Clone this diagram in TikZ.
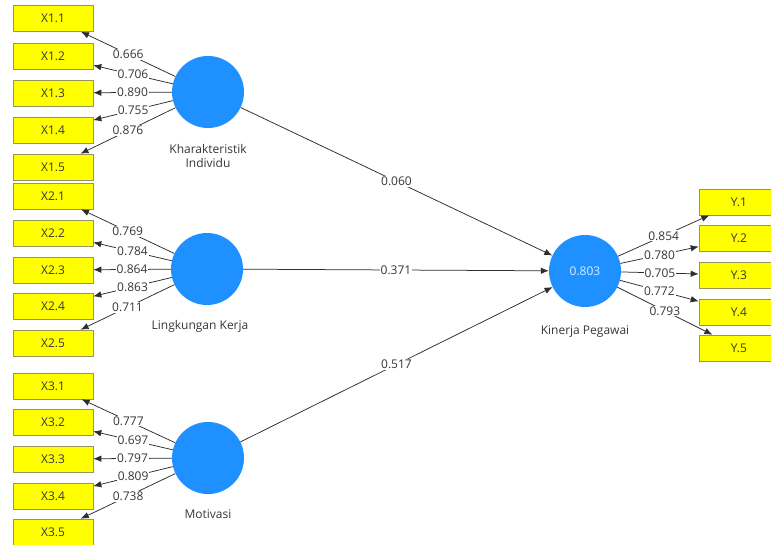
\documentclass[tikz,border=0pt]{standalone}
\usepackage{fontspec}
\setmainfont{Open Sans}
\usetikzlibrary{arrows.meta}

\definecolor{latent}{RGB}{30,144,255}
\definecolor{indicator}{RGB}{255,255,0}
\definecolor{indedge}{RGB}{150,150,90}
\definecolor{pathline}{RGB}{45,45,45}
\definecolor{labeltext}{RGB}{55,55,55}

\tikzset{
  latentvar/.style={circle, fill=latent, minimum size=72pt, inner sep=0pt, text=white!85!latent},
  itembox/.style={rectangle, fill=indicator, draw=indedge, line width=0.6pt, minimum width=80pt, minimum height=26pt, inner sep=0pt, text=labeltext},
  varname/.style={text=labeltext, align=center},
  loading/.style={draw=pathline, line width=0.75pt, -{Latex[length=8pt,width=6.5pt]}},
  coef/.style={fill=white, inner sep=1pt, text=labeltext},
}

\begin{document}
\begin{tikzpicture}[x=1pt, y=-1pt, font=\fontsize{12}{14.5}\selectfont]
            \clip (0,0) rectangle (771,545);
            \fill[white] (0,0) rectangle (771,545);

            \node[latentvar] (KI) at (208,92) {};
            \node[latentvar] (LK) at (207,269) {};
            \node[latentvar] (MO) at (208,458) {};
            \node[latentvar] (KP) at (585,271) {0.803};

            \node[varname] (KIname) at (208,156) {Kharakteristik\\Individu};
            \node[varname] (LKname) at (200,326) {Lingkungan Kerja};
            \node[varname] (MOname) at (208,514) {Motivasi};
            \node[varname] (KPname) at (585,332) {Kinerja Pegawai};

            \node[itembox] (X11) at (53,18.5) {X1.1};
            \node[itembox] (X12) at (53,56) {X1.2};
            \node[itembox] (X13) at (53,93) {X1.3};
            \node[itembox] (X14) at (53,130) {X1.4};
            \node[itembox] (X15) at (53,167) {X1.5};

            \node[itembox] (X21) at (53,196) {X2.1};
            \node[itembox] (X22) at (53,233) {X2.2};
            \node[itembox] (X23) at (53,270) {X2.3};
            \node[itembox] (X24) at (53,306) {X2.4};
            \node[itembox] (X25) at (53,343) {X2.5};

            \node[itembox] (X31) at (53,386) {X3.1};
            \node[itembox] (X32) at (53,422) {X3.2};
            \node[itembox] (X33) at (53,459) {X3.3};
            \node[itembox] (X34) at (53,496) {X3.4};
            \node[itembox] (X35) at (53,532) {X3.5};

            \node[itembox] (Y1) at (739,202) {Y.1};
            \node[itembox] (Y2) at (739,238) {Y.2};
            \node[itembox] (Y3) at (739,275) {Y.3};
            \node[itembox] (Y4) at (739,312) {Y.4};
            \node[itembox] (Y5) at (739,348) {Y.5};

            \draw[loading] (KI) -- node[coef]{0.666} (X11);
            \draw[loading] (KI) -- node[coef]{0.706} (X12);
            \draw[loading] (KI) -- node[coef]{0.890} (X13);
            \draw[loading] (KI) -- node[coef]{0.755} (X14);
            \draw[loading] (KI) -- node[coef]{0.876} (X15);

            \draw[loading] (LK) -- node[coef]{0.769} (X21);
            \draw[loading] (LK) -- node[coef]{0.784} (X22);
            \draw[loading] (LK) -- node[coef]{0.864} (X23);
            \draw[loading] (LK) -- node[coef]{0.863} (X24);
            \draw[loading] (LK) -- node[coef]{0.711} (X25);

            \draw[loading] (MO) -- node[coef]{0.777} (X31);
            \draw[loading] (MO) -- node[coef]{0.697} (X32);
            \draw[loading] (MO) -- node[coef]{0.797} (X33);
            \draw[loading] (MO) -- node[coef]{0.809} (X34);
            \draw[loading] (MO) -- node[coef]{0.738} (X35);

            \draw[loading] (KP) -- node[coef]{0.854} (Y1);
            \draw[loading] (KP) -- node[coef]{0.780} (Y2);
            \draw[loading] (KP) -- node[coef]{0.705} (Y3);
            \draw[loading] (KP) -- node[coef]{0.772} (Y4);
            \draw[loading] (KP) -- node[coef]{0.793} (Y5);

            \draw[loading] (KI) -- node[coef]{0.060} (KP);
            \draw[loading] (LK) -- node[coef]{0.371} (KP);
            \draw[loading] (MO) -- node[coef]{0.517} (KP);
        \end{tikzpicture}
\end{document}
